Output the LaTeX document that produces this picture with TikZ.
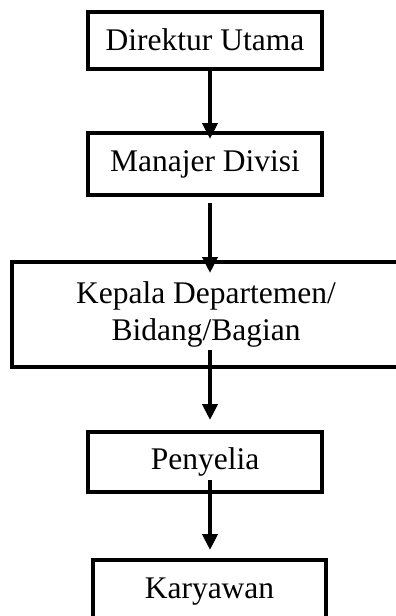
\documentclass[tikz,border=0pt]{standalone}
\usepackage{fontspec}
\setmainfont{Liberation Serif}
\usetikzlibrary{arrows.meta,calc}
\begin{document}
\begin{tikzpicture}[x=1pt,y=-1pt,
  box/.style={draw=black,line width=4pt,rectangle,outer sep=0pt,inner sep=0pt,
    align=center,font=\fontsize{31.5}{37}\selectfont},
  arr/.style={line width=4pt,-{Triangle[width=15pt,length=16pt]}}]
  \useasboundingbox (0,0) rectangle (396,616);
  % hierarchy boxes, top to bottom
  \node[box,minimum width=234pt,minimum height=57pt] (dir) at (205,40) {Direktur Utama};
  \node[box,minimum width=234pt,minimum height=62pt] (man) at (205,164) {Manajer Divisi};
  \node[box,minimum width=388pt,minimum height=105pt] (kep) at (206,314.5)
    {Kepala Departemen/\\Bidang/Bagian};
  \node[box,minimum width=234pt,minimum height=60pt] (pen) at (205,462) {Penyelia};
  \node[box,minimum width=233pt,minimum height=64pt] (kar) at (209.5,592) {Karyawan};
  % reporting lines
  \draw[arr] ($(dir.south)+(5,0)$) -- ($(man.north)+(5,6)$);
  \draw[arr] ($(man.south)+(5,8)$) -- ($(kep.north)+(4,11)$);
  \draw[arr] ($(kep.south)+(4,-17)$) -- ($(pen.north)+(5,-12)$);
  \draw[arr] ($(pen.south)+(5,-12)$) -- ($(kar.north)+(0.5,-10)$);
\end{tikzpicture}
\end{document}
